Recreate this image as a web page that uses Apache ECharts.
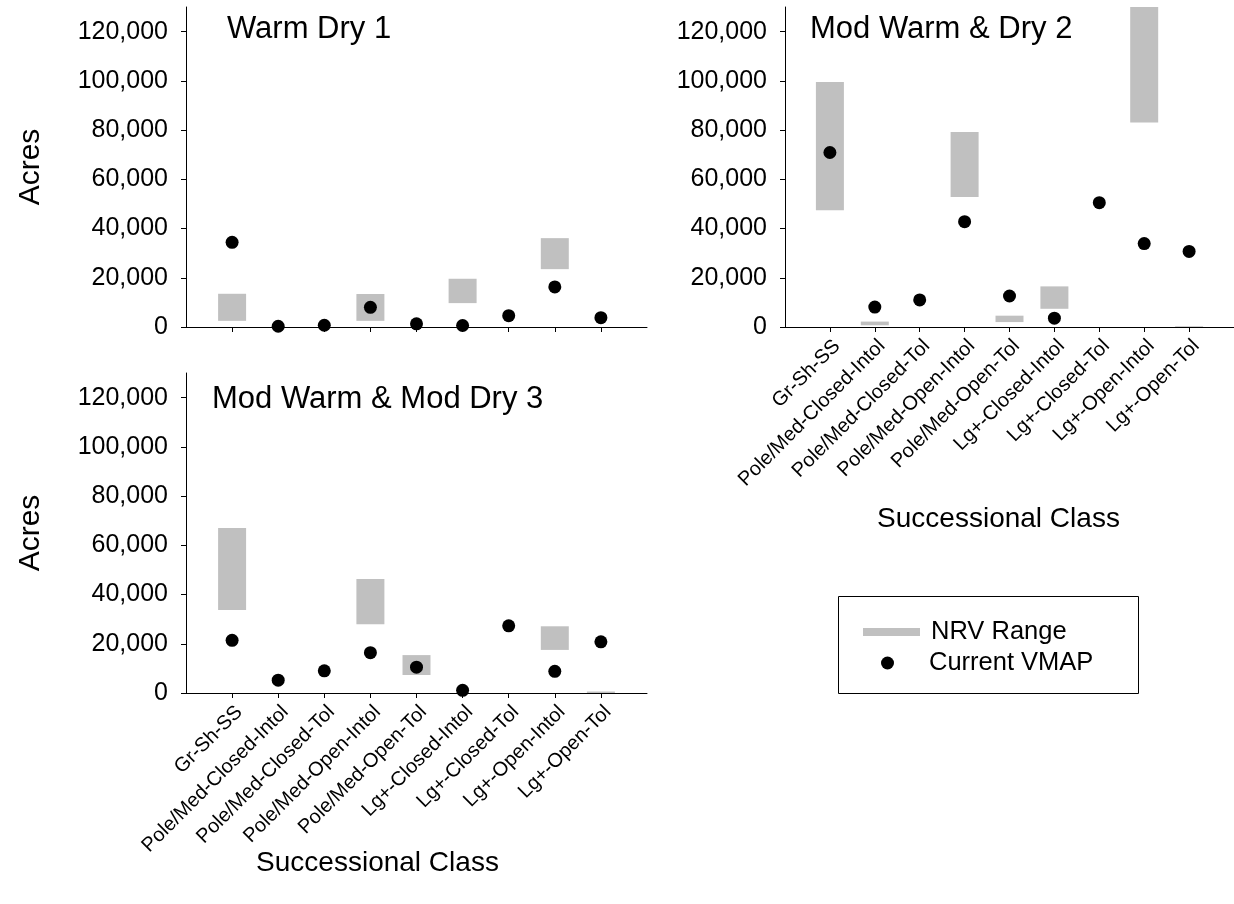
<!DOCTYPE html>
<html>
<head>
<meta charset="utf-8">
<script src="https://cdn.jsdelivr.net/npm/echarts@6/dist/echarts.min.js"></script>
<style>
html,body{margin:0;padding:0;background:#fff;}
#chart{width:1234px;height:904px;}
</style>
</head>
<body>
<div id="chart"></div>
<script>
const categories = ['Gr-Sh-SS','Pole/Med-Closed-Intol','Pole/Med-Closed-Tol','Pole/Med-Open-Intol','Pole/Med-Open-Tol','Lg+-Closed-Intol','Lg+-Closed-Tol','Lg+-Open-Intol','Lg+-Open-Tol'];
const yTicks = [0, 20000, 40000, 60000, 80000, 100000, 120000];
const panelTitles = ['Warm Dry 1', 'Mod Warm & Dry 2', 'Mod Warm & Mod Dry 3'];

// Panel 1: Warm Dry 1
const nrvLow1  = [2500, null, null, 2500, null, 9700, null, 23500, null];
const nrvHigh1 = [13500, null, null, 13400, null, 19600, null, 36100, null];
const current1 = [34400, 300, 700, 8000, 1300, 600, 4600, 16300, 3800];

// Panel 2: Mod Warm & Dry 2
const nrvLow2  = [47400, 700, null, 52800, 2000, 7400, null, 83100, 0];
const nrvHigh2 = [99500, 2200, null, 79200, 4600, 16500, null, 140000, 300];
const current2 = [70900, 8100, 11000, 42800, 12600, 3600, 50500, 33900, 30700];

// Panel 3: Mod Warm & Mod Dry 3
const nrvLow3  = [33700, null, null, 27900, 7300, null, null, 17500, 0];
const nrvHigh3 = [67000, null, null, 46300, 15400, null, null, 27100, 600];
const current3 = [21400, 5200, 9000, 16400, 10500, 1100, 27300, 8800, 20800];

const FONT = '"Liberation Sans", Arial, Helvetica, sans-serif';
const pad = a => ['-'].concat(a.map(v => v === null ? '-' : v)).concat(['-']);
const xCats = [''].concat(categories).concat(['']);

const panels = [
  {low: nrvLow1, high: nrvHigh1, cur: current1, grid: {left: 186, top: 7, width: 461, height: 320}, labels: false, acres: true, xName: false},
  {low: nrvLow2, high: nrvHigh2, cur: current2, grid: {left: 785, top: 7, width: 461, height: 320}, labels: true, acres: false, xName: true, nameGap: 178, namePad: 22},
  {low: nrvLow3, high: nrvHigh3, cur: current3, grid: {left: 186, top: 373, width: 461, height: 320}, labels: true, acres: true, xName: true, nameGap: 156, namePad: 78}
];

const grids = [], xAxes = [], yAxes = [], series = [];
panels.forEach((p, i) => {
  grids.push(Object.assign({containLabel: false}, p.grid));
  xAxes.push({
    type: 'category', gridIndex: i, data: xCats, boundaryGap: false,
    axisLine: {lineStyle: {color: '#000', width: 1}},
    axisTick: {show: true, length: 5, lineStyle: {color: '#000'}, interval: (idx, v) => v !== ''},
    axisLabel: {show: p.labels, rotate: 45, fontSize: 20, color: '#000', fontFamily: FONT, interval: (idx, v) => v !== '', margin: 9, verticalAlign: 'top'},
    name: p.xName ? 'Successional Class' : '',
    nameLocation: 'middle', nameGap: p.nameGap || 0, nameMoveOverlap: false,
    nameTextStyle: {fontSize: 28, color: '#000', fontFamily: FONT, padding: [0, p.namePad || 0, 0, 0]},
    splitLine: {show: false}
  });
  yAxes.push({
    type: 'value', gridIndex: i, min: 0, max: 130000,
    axisLine: {show: true, lineStyle: {color: '#000', width: 1}},
    axisTick: {show: true, length: 5, lineStyle: {color: '#000'}, customValues: yTicks},
    axisLabel: {fontSize: 25, color: '#000', fontFamily: FONT, margin: 18, customValues: yTicks,
      formatter: v => Number(v).toLocaleString('en-US')},
    splitLine: {show: false},
    name: p.acres ? 'Acres' : '', nameLocation: 'middle', nameGap: 140, nameRotate: 90, nameMoveOverlap: false,
    nameTextStyle: {fontSize: 30, color: '#000', fontFamily: FONT}
  });
  const lows = pad(p.low);
  const ranges = pad(p.high.map((h, k) => (h === null ? null : h - p.low[k])));
  series.push({
    type: 'bar', name: 'base' + i, xAxisIndex: i, yAxisIndex: i, stack: 'nrv' + i,
    data: lows, barWidth: 28, itemStyle: {color: 'rgba(255,255,255,0)'}, silent: true
  });
  series.push({
    type: 'bar', name: 'NRV Range', xAxisIndex: i, yAxisIndex: i, stack: 'nrv' + i,
    data: ranges, barWidth: 28, itemStyle: {color: '#c0c0c0'}
  });
  series.push({
    type: 'scatter', name: 'Current VMAP', xAxisIndex: i, yAxisIndex: i,
    data: pad(p.cur), symbol: 'circle', symbolSize: 13, itemStyle: {color: '#000', opacity: 1}, z: 5
  });
});

const titleStyle = {fontSize: 31, fontWeight: 'normal', color: '#000', fontFamily: FONT};
const option = {
  animation: false,
  textStyle: {fontFamily: FONT, color: '#000'},
  title: [
    {text: panelTitles[0], left: 222, top: 9, textStyle: titleStyle},
    {text: panelTitles[1], left: 805, top: 9, textStyle: titleStyle},
    {text: panelTitles[2], left: 207, top: 379, textStyle: titleStyle}
  ],
  legend: [
    {left: 858, top: 614, itemWidth: 57, itemHeight: 8, selectedMode: false,
      data: [{name: 'NRV Range', icon: 'rect'}],
      textStyle: {fontSize: 25.5, color: '#000', fontFamily: FONT, padding: [0, 0, 0, 6]}},
    {left: 876, top: 645, itemWidth: 57, itemHeight: 13, selectedMode: false,
      data: [{name: 'Current VMAP', icon: 'circle'}],
      textStyle: {fontSize: 25.5, color: '#000', fontFamily: FONT, padding: [0, 0, 0, 8]}}
  ],
  graphic: [
    {type: 'rect', shape: {x: 838.5, y: 596.5, width: 300, height: 97}, style: {fill: 'none', stroke: '#000', lineWidth: 1}, silent: true}
  ],
  grid: grids, xAxis: xAxes, yAxis: yAxes, series: series
};

const chart = echarts.init(document.getElementById('chart'), null, {renderer: 'canvas'});
chart.setOption(option);
</script>
</body>
</html>
